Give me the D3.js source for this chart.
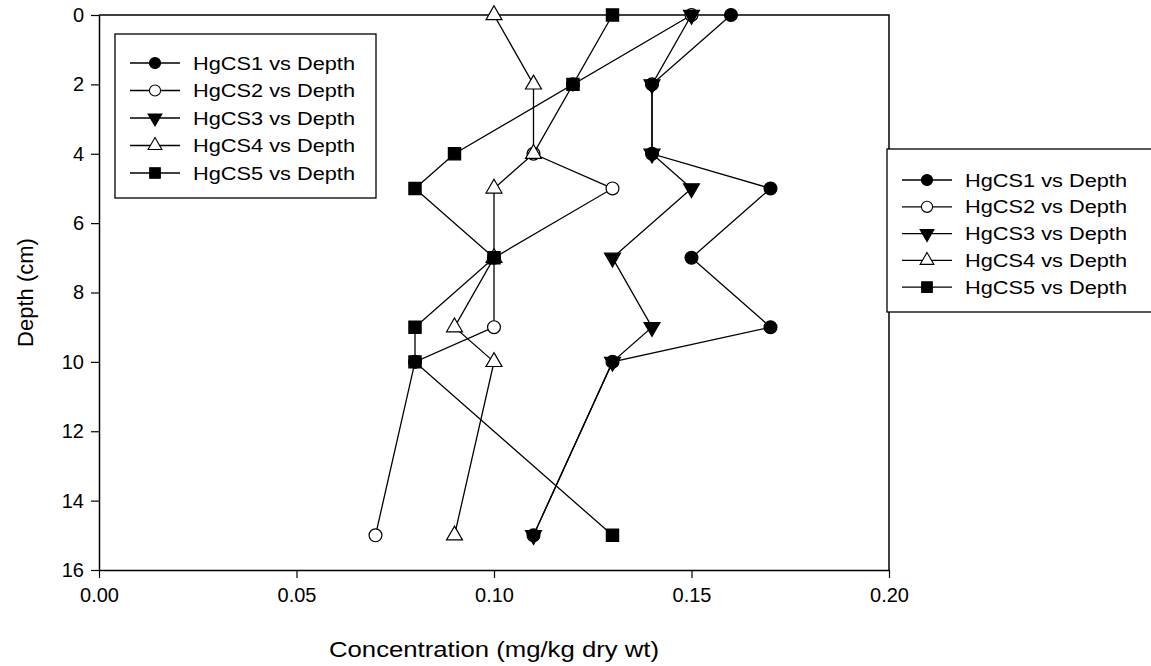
<!DOCTYPE html>
<html>
<head>
<meta charset="utf-8">
<script src="https://cdn.jsdelivr.net/npm/d3@7"></script>
<style>
  body { margin: 0; background: #fff; }
  svg { display: block; font-family: Arial, "Liberation Sans", sans-serif; }
</style>
</head>
<body>
<svg id="chart" width="1151" height="666"></svg>
<script>
// depths shared by all five cores
var depths = [0, 2, 4, 5, 7, 9, 10, 15];

var seriesNames = ["HgCS1 vs Depth", "HgCS2 vs Depth", "HgCS3 vs Depth", "HgCS4 vs Depth", "HgCS5 vs Depth"];
var hgCS1 = [0.16, 0.14, 0.14, 0.17, 0.15, 0.17, 0.13, 0.11];
var hgCS2 = [0.15, 0.12, 0.11, 0.13, 0.10, 0.10, 0.08, 0.07];
var hgCS3 = [0.15, 0.14, 0.14, 0.15, 0.13, 0.14, 0.13, 0.11];
var hgCS4 = [0.10, 0.11, 0.11, 0.10, 0.10, 0.09, 0.10, 0.09];
var hgCS5 = [0.13, 0.12, 0.09, 0.08, 0.10, 0.08, 0.08, 0.13];

var xTicks = [0, 0.05, 0.10, 0.15, 0.20];
var yTicks = [0, 2, 4, 6, 8, 10, 12, 14, 16];

var svg = d3.select("#chart");
var plotL = 99, plotR = 889, plotT = 15, plotB = 570;

var x = d3.scaleLinear().domain([0, 0.2]).range([plotL, plotR]);
var y = d3.scaleLinear().domain([0, 16]).range([plotT, plotB]);

// marker styles per series
var markers = [
    {shape: d3.symbolCircle, fill: "#000", size: 130, rot: 0},
    {shape: d3.symbolCircle, fill: "#fff", size: 130, rot: 0},
    {shape: d3.symbolTriangle, fill: "#000", size: 110, rot: 180},
    {shape: d3.symbolTriangle, fill: "#fff", size: 110, rot: 0},
    {shape: d3.symbolSquare, fill: "#000", size: 150, rot: 0}
];

var allSeries = [hgCS1, hgCS2, hgCS3, hgCS4, hgCS5].map(function(vals, i) {
    return {name: seriesNames[i], m: markers[i], pts: vals.map(function(v, j) { return {c: v, d: depths[j]}; })};
});

// frame
svg.append("path")
    .attr("d", "M" + plotL + "," + plotT + "H" + plotR + "V" + plotB)
    .attr("fill", "none").attr("stroke", "#000").attr("stroke-width", 1.5);

var xAxis = svg.append("g")
    .attr("transform", "translate(0," + plotB + ")")
    .call(d3.axisBottom(x).tickValues(xTicks).tickFormat(d3.format(".2f")).tickSizeInner(8).tickSizeOuter(0).tickPadding(10));
xAxis.select(".domain").attr("stroke-width", 1.5);
xAxis.selectAll(".tick line").attr("stroke-width", 1.2);
xAxis.selectAll("text").attr("font-size", 20).attr("font-family", "Arial, 'Liberation Sans', sans-serif").attr("fill", "#000");

var yAxis = svg.append("g")
    .attr("transform", "translate(" + plotL + ",0)")
    .call(d3.axisLeft(y).tickValues(yTicks).tickSizeInner(8).tickSizeOuter(0).tickPadding(7));
yAxis.select(".domain").attr("stroke-width", 1.5);
yAxis.selectAll(".tick line").attr("stroke-width", 1.2);
yAxis.selectAll("text").attr("font-size", 20).attr("font-family", "Arial, 'Liberation Sans', sans-serif").attr("fill", "#000");

svg.append("text")
    .attr("x", (plotL + plotR) / 2).attr("y", 657)
    .attr("text-anchor", "middle").attr("font-size", 22)
    .attr("textLength", 330).attr("lengthAdjust", "spacingAndGlyphs")
    .text("Concentration (mg/kg dry wt)");

svg.append("text")
    .attr("transform", "translate(33," + ((plotT + plotB) / 2) + ") rotate(-90)")
    .attr("text-anchor", "middle").attr("font-size", 22)
    .text("Depth (cm)");

var line = d3.line().x(function(p) { return x(p.c); }).y(function(p) { return y(p.d); });

function symbolPath(m) {
    return d3.symbol().type(m.shape).size(m.size)();
}

allSeries.forEach(function(s) {
    var g = svg.append("g");
    g.append("path").attr("d", line(s.pts))
        .attr("fill", "none").attr("stroke", "#000").attr("stroke-width", 1.3);
    g.selectAll("path.pt").data(s.pts).enter().append("path")
        .attr("class", "pt")
        .attr("d", symbolPath(s.m))
        .attr("transform", function(p) { return "translate(" + x(p.c) + "," + y(p.d) + ") rotate(" + s.m.rot + ")"; })
        .attr("fill", s.m.fill).attr("stroke", "#000").attr("stroke-width", 1.2);
});

// two identical legends
function legend(bx, by, bw, bh, rowY0, rowStep, lineX0) {
    var g = svg.append("g");
    g.append("rect").attr("x", bx).attr("y", by).attr("width", bw).attr("height", bh)
        .attr("fill", "#fff").attr("stroke", "#000").attr("stroke-width", 1.3);
    allSeries.forEach(function(s, i) {
        var ry = rowY0 + i * rowStep;
        g.append("line").attr("x1", lineX0).attr("x2", lineX0 + 50).attr("y1", ry).attr("y2", ry)
            .attr("stroke", "#000").attr("stroke-width", 1.3);
        g.append("path").attr("d", d3.symbol().type(s.m.shape).size(s.m.size * 0.75)())
            .attr("transform", "translate(" + (lineX0 + 25) + "," + ry + ") rotate(" + s.m.rot + ")")
            .attr("fill", s.m.fill).attr("stroke", "#000").attr("stroke-width", 1.1);
        g.append("text").attr("x", lineX0 + 63).attr("y", ry + 6.5)
            .attr("font-size", 18)
            .attr("textLength", 162).attr("lengthAdjust", "spacingAndGlyphs")
            .text(s.name);
    });
}
legend(115, 34, 261, 164, 63, 27.5, 130);
legend(887, 149, 266, 163, 180, 26.8, 902);
</script>
</body>
</html>
